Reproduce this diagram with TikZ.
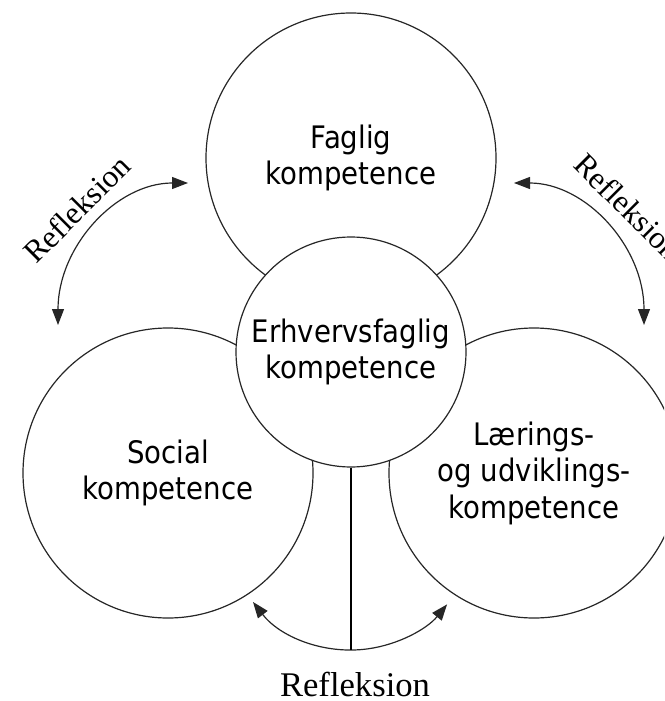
\documentclass[tikz,border=0pt]{standalone}
\usepackage{fontspec}
\newfontfamily\sansf{DejaVu Sans}[FakeStretch=0.89]
\newfontfamily\serf{Liberation Serif}
\usetikzlibrary{arrows.meta}
\begin{document}
\begin{tikzpicture}[x=1pt,y=-1pt,
  circ/.style={circle, draw=black!85, line width=1.2pt, fill=white, inner sep=0pt, align=center,
    font=\sansf\fontsize{31}{36.5}\selectfont, text=black},
  refl/.style={{Triangle[length=16pt,width=12pt]}-{Triangle[length=16pt,width=12pt]}, line width=1.2pt, draw=black!85},
  rlabel/.style={font=\serf\fontsize{34.6}{40}\selectfont, inner sep=0pt, text=black},
  rlabelsmall/.style={rlabel, font=\serf\fontsize{31.5}{36}\selectfont}]
\useasboundingbox (0,0) rectangle (664,701);
\clip (0,0) rectangle (664,701);
% outer circles
\node[circ, minimum size=290] (F) at (351,158) {Faglig\\kompetence};
\node[circ, minimum size=290] (S) at (168,473) {Social\\kompetence};
\node[circ, minimum size=290] (L) at (534,473) {Lærings-\\og udviklings-\\kompetence};
% centre circle on top
\node[circ, minimum size=230] (E) at (351,352) {Erhvervsfaglig\\kompetence};
% arrow end points
\coordinate (la) at (58,325);
\coordinate (lb) at (188,183);
\coordinate (ra) at (644,325);
\coordinate (rb) at (514,183);
\coordinate (ba) at (253,602);
\coordinate (bm) at (351,650);
% reflection arrows
\draw[refl] (la) .. controls (58,246.6) and (116.2,183) .. (lb);
\draw[refl] (ra) .. controls (644,246.6) and (585.8,183) .. (rb);
\draw[refl] (ba) arc[start angle=142.2, end angle=39.2, radius=124];
\draw[line width=1.2pt] (E.south) -- (bm);
% labels
\node[rlabelsmall, rotate=45] (tl) at (77,209) {Refleksion};
\node[rlabelsmall, rotate=-45] (tr) at (628,207) {Refleksion};
\node[rlabel, anchor=base] (tb) at (355,696) {Refleksion};
\end{tikzpicture}
\end{document}
